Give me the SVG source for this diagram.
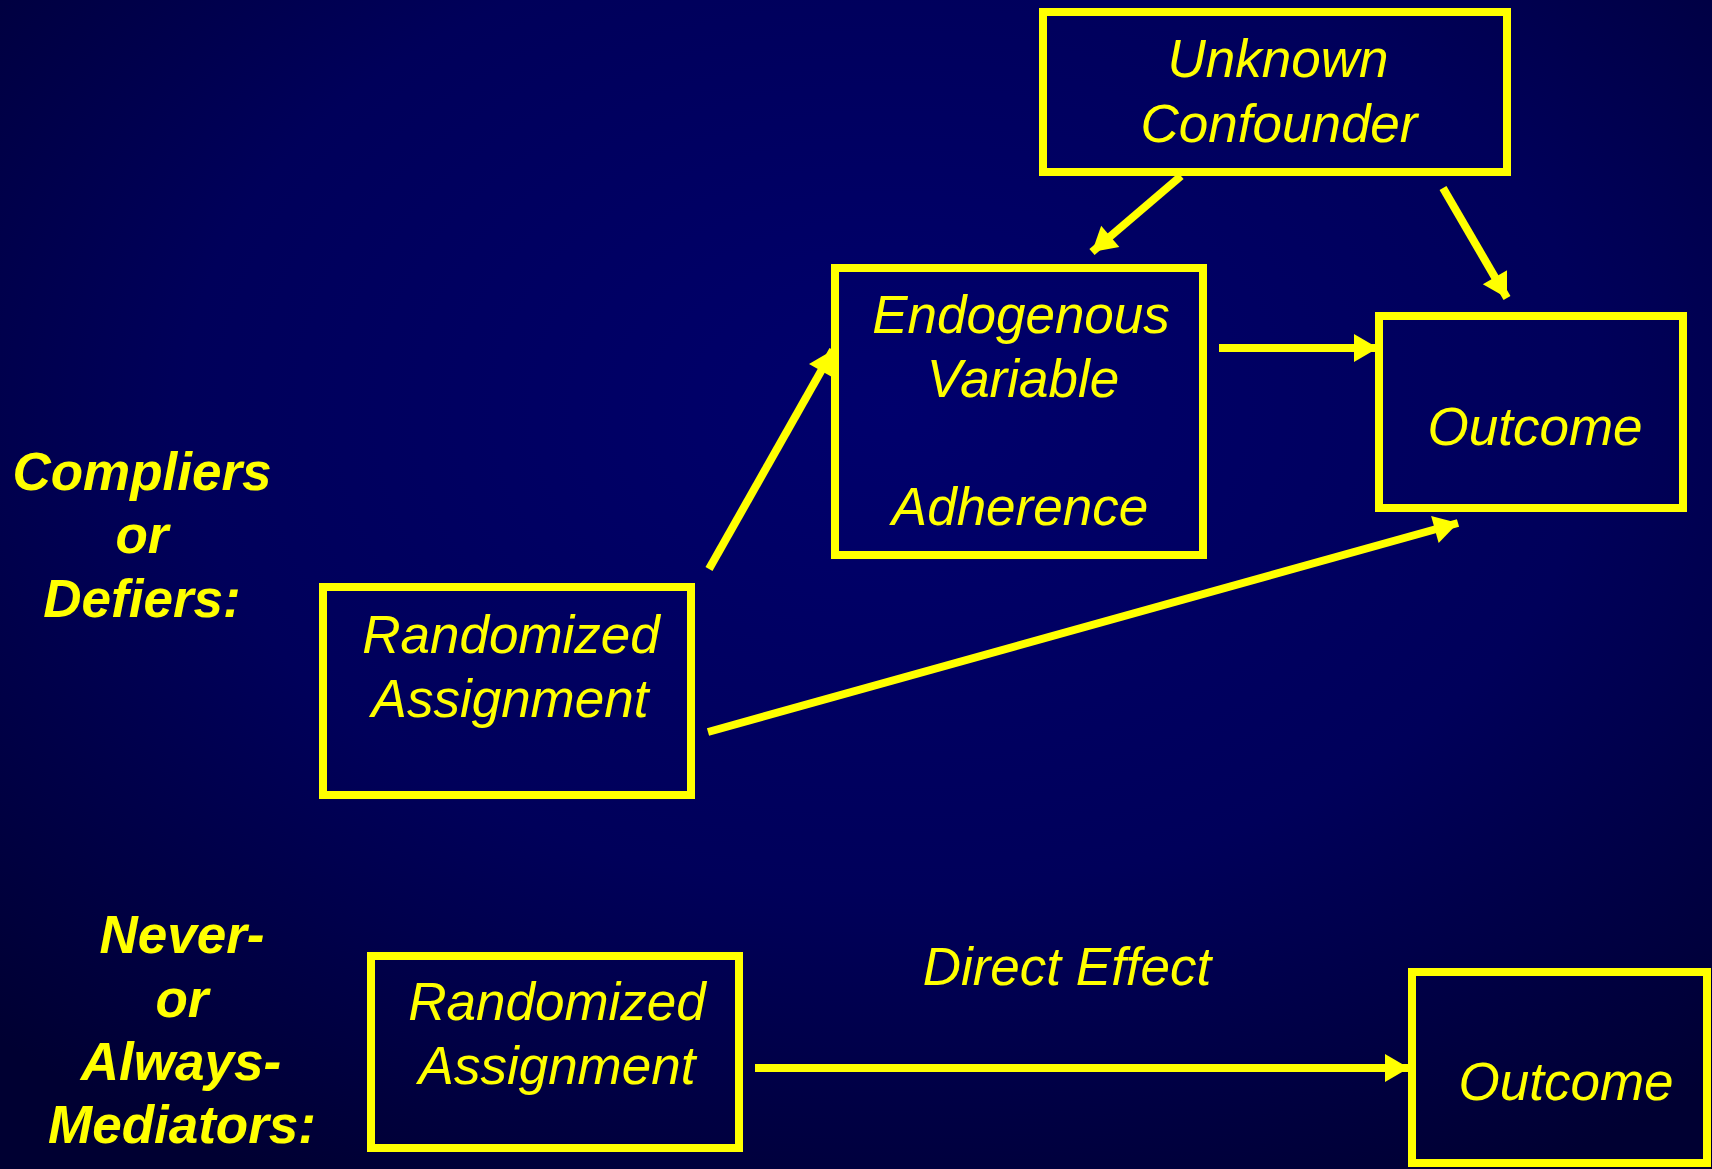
<svg xmlns="http://www.w3.org/2000/svg" width="1712" height="1169" viewBox="0 0 1712 1169">
<defs>
<radialGradient id="bg" cx="52%" cy="35%" r="75%">
<stop offset="0" stop-color="#00006c"/>
<stop offset="0.55" stop-color="#00005a"/>
<stop offset="1" stop-color="#000032"/>
</radialGradient>
<marker id="ah" markerUnits="userSpaceOnUse" markerWidth="30" markerHeight="30" refX="24" refY="14" orient="auto" overflow="visible">
<path d="M0,0 L24,14 L0,28 z" fill="#ffff00"/>
</marker>
<style>
.box{fill:none;stroke:#ffff00;stroke-width:8}
.t{font-family:"Liberation Sans",Arial,sans-serif;font-style:italic;font-size:53px;fill:#ffff00;text-anchor:middle}
.b{font-weight:bold}
.c{stroke:#ffff00;stroke-width:8;fill:none;marker-end:url(#ah)}
</style>
</defs>
<rect x="0" y="0" width="1712" height="1169" fill="url(#bg)"/>

<g id="confounder">
<rect class="box" x="1043" y="12" width="464" height="160"/>
<text class="t" x="1278" y="77">Unknown</text>
<text class="t" x="1279" y="142">Confounder</text>
</g>

<g id="endogenous">
<rect class="box" x="835" y="268" width="368" height="287"/>
<text class="t" x="1021" y="333">Endogenous</text>
<text class="t" x="1023" y="397">Variable</text>
<text class="t" x="1020" y="525">Adherence</text>
</g>

<g id="outcome1">
<rect class="box" x="1379" y="316" width="304" height="192"/>
<text class="t" x="1535" y="445">Outcome</text>
</g>

<g id="randomized1">
<rect class="box" x="323" y="587" width="368" height="208"/>
<text class="t" x="511" y="653">Randomized</text>
<text class="t" x="510" y="717">Assignment</text>
</g>

<g id="label-compliers">
<text class="t b" x="142" y="490">Compliers</text>
<text class="t b" x="142" y="553">or</text>
<text class="t b" x="142" y="617">Defiers:</text>
</g>

<g id="label-never">
<text class="t b" x="182" y="953">Never-</text>
<text class="t b" x="182" y="1017">or</text>
<text class="t b" x="181" y="1080">Always-</text>
<text class="t b" x="182" y="1143">Mediators:</text>
</g>

<g id="randomized2">
<rect class="box" x="371" y="956" width="368" height="192"/>
<text class="t" x="557" y="1020">Randomized</text>
<text class="t" x="557" y="1084">Assignment</text>
</g>

<g id="outcome2">
<rect class="box" x="1412" y="972" width="295" height="191"/>
<text class="t" x="1566" y="1100">Outcome</text>
</g>

<g id="direct-effect-label">
<text class="t" x="1067" y="985">Direct Effect</text>
</g>

<g id="connectors">
<line class="c" x1="1181" y1="176" x2="1092" y2="252"/>
<line class="c" x1="1443" y1="188" x2="1507" y2="298"/>
<line class="c" x1="1219" y1="348" x2="1378" y2="348"/>
<line class="c" x1="709" y1="569" x2="833" y2="350"/>
<line class="c" x1="708" y1="732" x2="1458" y2="523"/>
<line class="c" x1="755" y1="1068" x2="1409" y2="1068"/>
</g>
</svg>
